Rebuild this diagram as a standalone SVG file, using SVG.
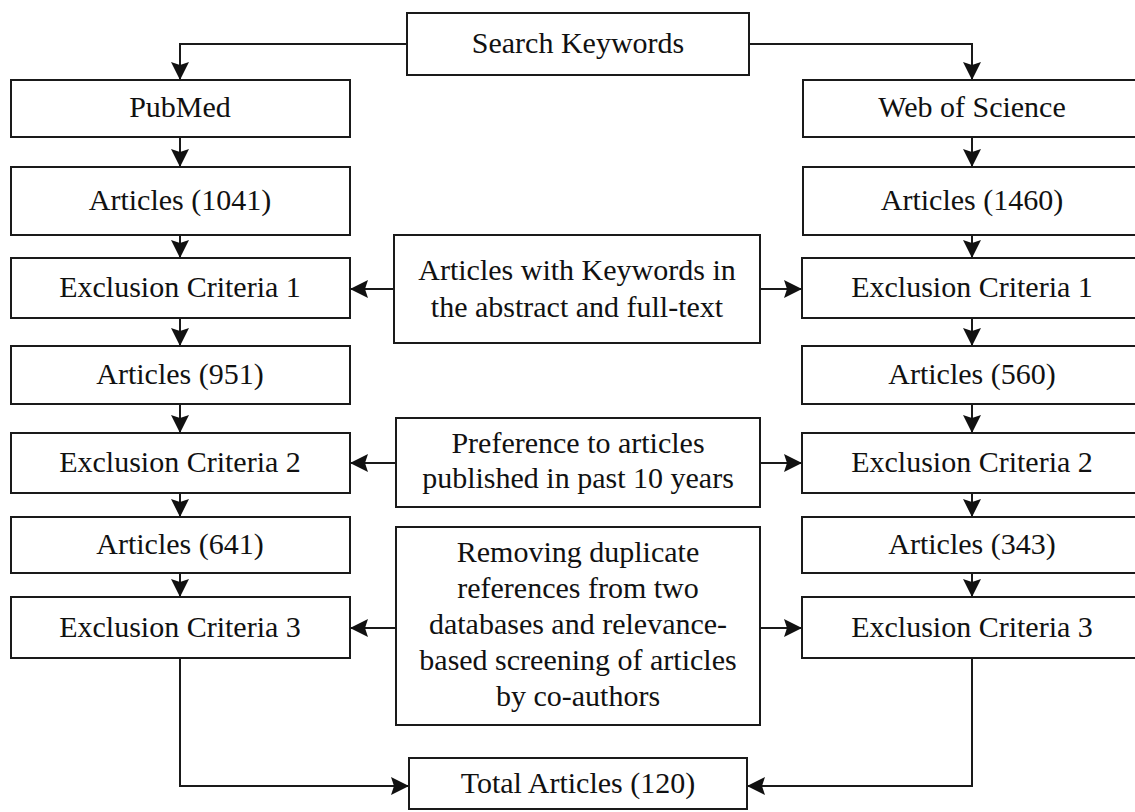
<svg xmlns="http://www.w3.org/2000/svg" width="1135" height="812" viewBox="0 0 1135 812" font-family="Liberation Serif, DejaVu Serif, Times New Roman, serif">
<defs>
<style>
.box{fill:#fff;stroke:#1a1a1a;stroke-width:2}
.t{font-size:30px;fill:#111;text-anchor:middle}
.c{fill:none;stroke:#1a1a1a;stroke-width:2}
</style>
<marker id="ah" markerUnits="userSpaceOnUse" markerWidth="18" markerHeight="18" viewBox="0 0 18 18" refX="17" refY="9" orient="auto">
<path d="M0,0 L18,9 L0,18 L3,9 z" fill="#111"/>
</marker>
</defs>
<rect width="1135" height="812" fill="#fff"/>
<g id="connectors">
<path class="c" d="M407,44 H180 V79" marker-end="url(#ah)"/>
<path class="c" d="M749,44 H972 V79" marker-end="url(#ah)"/>
<path class="c" d="M180,137 V166" marker-end="url(#ah)"/>
<path class="c" d="M180,235 V257" marker-end="url(#ah)"/>
<path class="c" d="M180,318 V345" marker-end="url(#ah)"/>
<path class="c" d="M180,404 V432" marker-end="url(#ah)"/>
<path class="c" d="M180,493 V516" marker-end="url(#ah)"/>
<path class="c" d="M180,573 V596" marker-end="url(#ah)"/>
<path class="c" d="M972,137 V166" marker-end="url(#ah)"/>
<path class="c" d="M972,235 V257" marker-end="url(#ah)"/>
<path class="c" d="M972,318 V345" marker-end="url(#ah)"/>
<path class="c" d="M972,404 V432" marker-end="url(#ah)"/>
<path class="c" d="M972,493 V516" marker-end="url(#ah)"/>
<path class="c" d="M972,573 V596" marker-end="url(#ah)"/>
<path class="c" d="M394,289 H351" marker-end="url(#ah)"/>
<path class="c" d="M760,289 H801" marker-end="url(#ah)"/>
<path class="c" d="M396,463 H351" marker-end="url(#ah)"/>
<path class="c" d="M760,463 H801" marker-end="url(#ah)"/>
<path class="c" d="M396,628 H351" marker-end="url(#ah)"/>
<path class="c" d="M760,628 H801" marker-end="url(#ah)"/>
<path class="c" d="M180,658 V786 H408" marker-end="url(#ah)"/>
<path class="c" d="M972,658 V786 H748" marker-end="url(#ah)"/>
</g>
<g id="search"><rect class="box" x="407" y="13" width="342" height="62"/><text class="t" x="578" y="53">Search Keywords</text></g>
<g id="pubmed"><rect class="box" x="11" y="80" width="339" height="57"/><text class="t" x="180" y="117">PubMed</text></g>
<g id="wos"><rect class="box" x="803" y="80" width="340" height="57"/><text class="t" x="972" y="117">Web of Science</text></g>
<g id="pm-articles1"><rect class="box" x="11" y="167" width="339" height="68"/><text class="t" x="180" y="210">Articles (1041)</text></g>
<g id="ws-articles1"><rect class="box" x="803" y="167" width="340" height="68"/><text class="t" x="972" y="210">Articles (1460)</text></g>
<g id="pm-ex1"><rect class="box" x="11" y="258" width="339" height="60"/><text class="t" x="180" y="297">Exclusion Criteria 1</text></g>
<g id="ws-ex1"><rect class="box" x="802" y="258" width="341" height="60"/><text class="t" x="972" y="297">Exclusion Criteria 1</text></g>
<g id="mid1"><rect class="box" x="394" y="235" width="366" height="108"/><text class="t" x="577" y="280">Articles with Keywords in</text><text class="t" x="577" y="317">the abstract and full-text</text></g>
<g id="pm-articles2"><rect class="box" x="11" y="346" width="339" height="58"/><text class="t" x="180" y="384">Articles (951)</text></g>
<g id="ws-articles2"><rect class="box" x="802" y="346" width="341" height="58"/><text class="t" x="972" y="384">Articles (560)</text></g>
<g id="pm-ex2"><rect class="box" x="11" y="433" width="339" height="60"/><text class="t" x="180" y="472">Exclusion Criteria 2</text></g>
<g id="ws-ex2"><rect class="box" x="802" y="433" width="341" height="60"/><text class="t" x="972" y="472">Exclusion Criteria 2</text></g>
<g id="mid2"><rect class="box" x="396" y="418" width="364" height="89"/><text class="t" x="578" y="453">Preference to articles</text><text class="t" x="578" y="488">published in past 10 years</text></g>
<g id="pm-articles3"><rect class="box" x="11" y="517" width="339" height="56"/><text class="t" x="180" y="554">Articles (641)</text></g>
<g id="ws-articles3"><rect class="box" x="802" y="517" width="341" height="56"/><text class="t" x="972" y="554">Articles (343)</text></g>
<g id="pm-ex3"><rect class="box" x="11" y="597" width="339" height="61"/><text class="t" x="180" y="637">Exclusion Criteria 3</text></g>
<g id="ws-ex3"><rect class="box" x="802" y="597" width="341" height="61"/><text class="t" x="972" y="637">Exclusion Criteria 3</text></g>
<g id="mid3"><rect class="box" x="396" y="527" width="364" height="198"/>
<text class="t" x="578" y="562">Removing duplicate</text>
<text class="t" x="578" y="598">references from two</text>
<text class="t" x="578" y="634">databases and relevance-</text>
<text class="t" x="578" y="670">based screening of articles</text>
<text class="t" x="578" y="706">by co-authors</text></g>
<g id="total"><rect class="box" x="409" y="758" width="338" height="51"/><text class="t" x="578" y="793">Total Articles (120)</text></g>
</svg>
